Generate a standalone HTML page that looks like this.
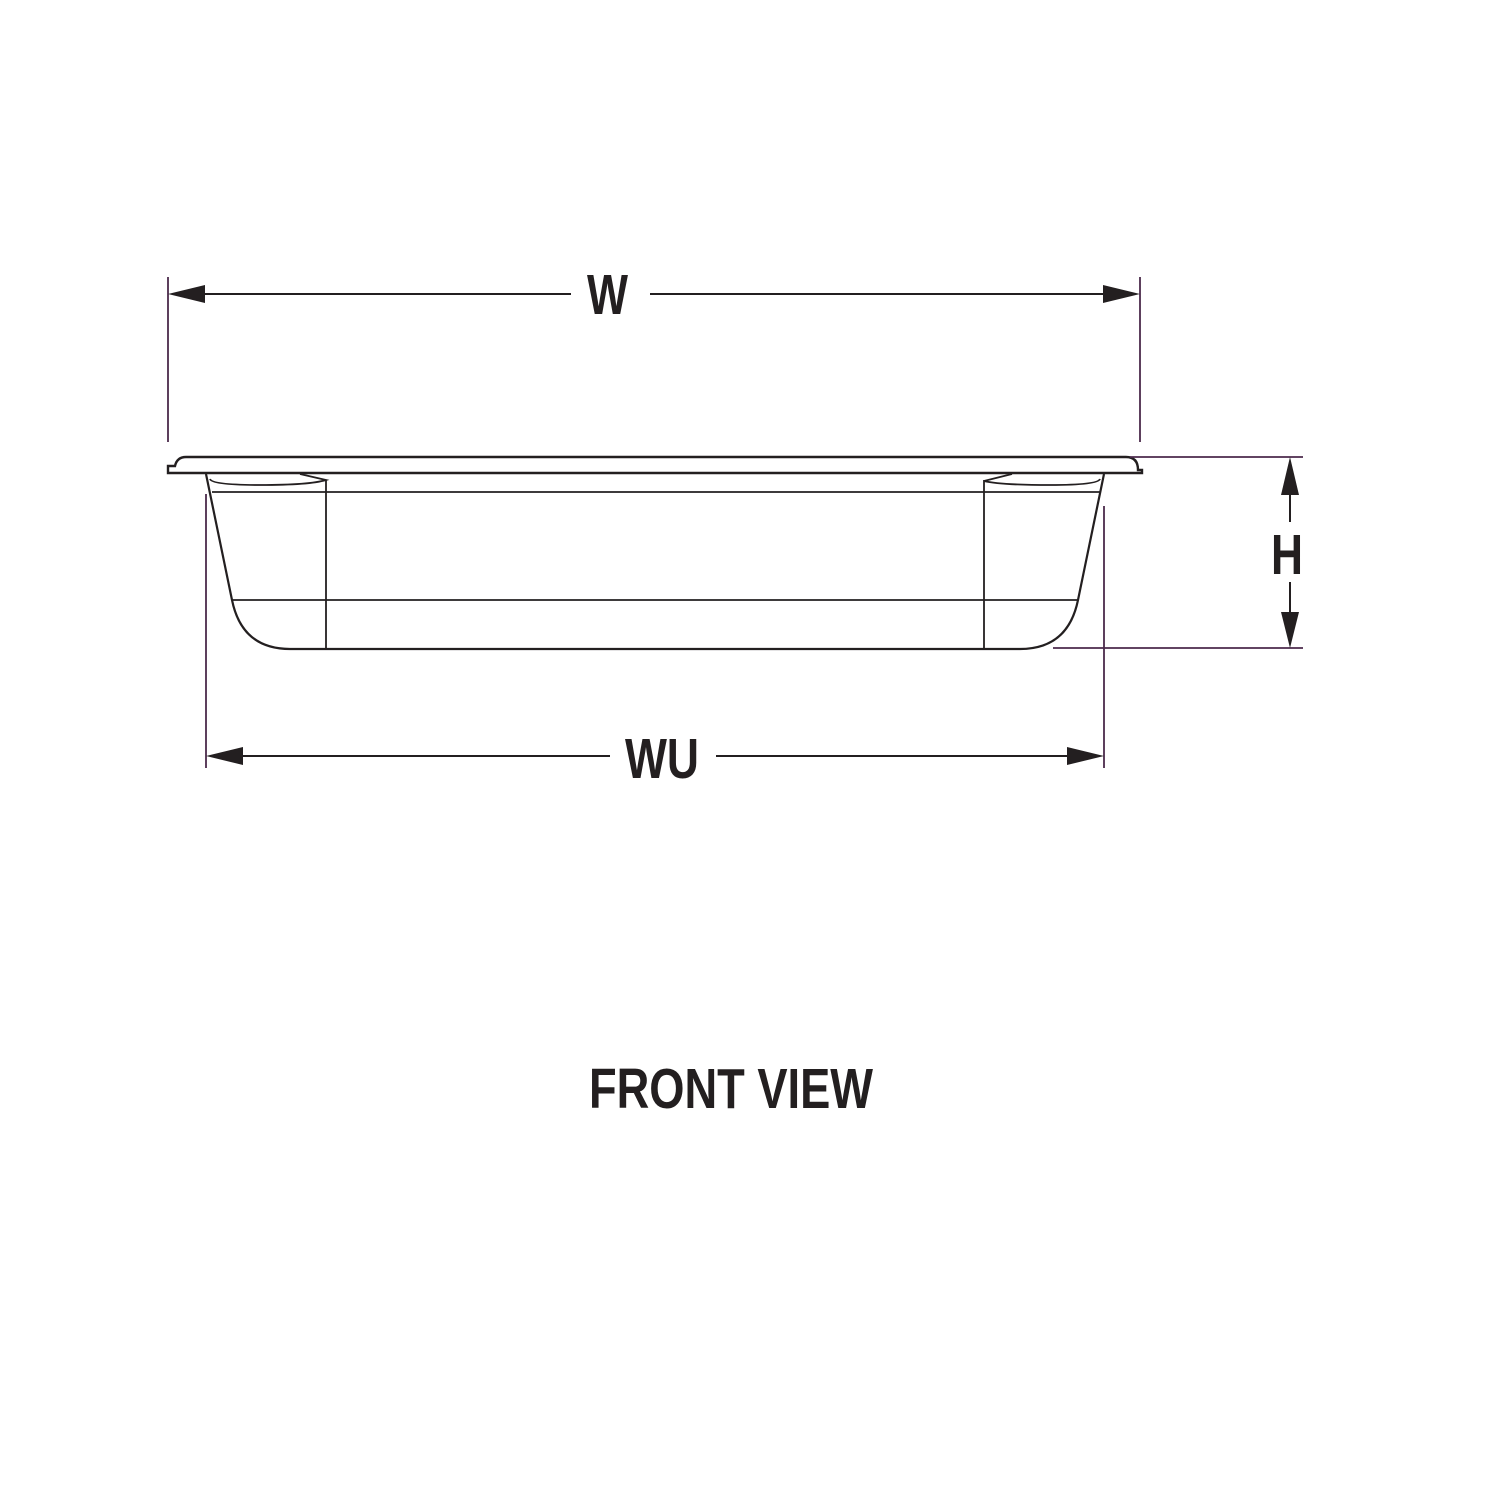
<!DOCTYPE html>
<html><head><style>html,body{margin:0;padding:0;background:#fff}</style></head>
<body>
<svg width="1500" height="1500" viewBox="0 0 1500 1500" xmlns="http://www.w3.org/2000/svg">
<g fill="none" stroke="#231f20" stroke-width="2.2">
 <path d="M168 473 H1142 V470 H1138 Q1138 457 1126 457 H186 Q177 457 175 466 H168 Z" stroke-width="2.4"/>
 <path d="M206 474 L232 600 Q242 649 290 649 H1020 Q1068 649 1078 600 L1104 474"/>
 <line x1="212" y1="492" x2="1100" y2="492" stroke-width="1.8"/>
 <line x1="232" y1="600" x2="1078" y2="600" stroke-width="1.8"/>
 <line x1="326" y1="480" x2="326" y2="649" stroke-width="1.8"/>
 <line x1="984" y1="480" x2="984" y2="649" stroke-width="1.8"/>
 <path d="M210 479 Q212 485 260 485 Q310 485 326 480 L300 474" stroke-width="1.8"/>
 <path d="M1100 479 Q1098 485 1050 485 Q1000 485 984 481 L1012 474" stroke-width="1.8"/>
</g>
<g stroke="#4b2a4b" stroke-width="1.8">
 <line x1="168" y1="277" x2="168" y2="442"/>
 <line x1="1140" y1="277" x2="1140" y2="442"/>
 <line x1="206" y1="494" x2="206" y2="768"/>
 <line x1="1104" y1="506" x2="1104" y2="768"/>
 <line x1="1130" y1="457" x2="1303" y2="457"/>
 <line x1="1053" y1="648" x2="1303" y2="648"/>
</g>
<g stroke="#231f20" stroke-width="2">
 <line x1="200" y1="294" x2="571" y2="294"/>
 <line x1="650" y1="294" x2="1108" y2="294"/>
 <line x1="240" y1="756" x2="610" y2="756"/>
 <line x1="716" y1="756" x2="1070" y2="756"/>
 <line x1="1290" y1="495" x2="1290" y2="522"/>
 <line x1="1290" y1="582" x2="1290" y2="612"/>
</g>
<g fill="#231f20">
 <polygon points="168,294 205,285 205,303"/>
 <polygon points="1140,294 1103,285 1103,303"/>
 <polygon points="206,756 243,747 243,765"/>
 <polygon points="1104,756 1067,747 1067,765"/>
 <polygon points="1290,457 1281,495 1299,495"/>
 <polygon points="1290,648 1281,612 1299,612"/>
</g>
<g font-family="Liberation Sans, sans-serif" font-size="57" font-weight="bold" fill="#231f20">
 <text x="587" y="314" textLength="41" lengthAdjust="spacingAndGlyphs">W</text>
 <text x="625" y="778" textLength="74" lengthAdjust="spacingAndGlyphs">WU</text>
 <text x="1271" y="574" textLength="32" lengthAdjust="spacingAndGlyphs">H</text>
 <text x="589" y="1108" textLength="284" lengthAdjust="spacingAndGlyphs">FRONT VIEW</text>
</g>
</svg>
</body></html>
